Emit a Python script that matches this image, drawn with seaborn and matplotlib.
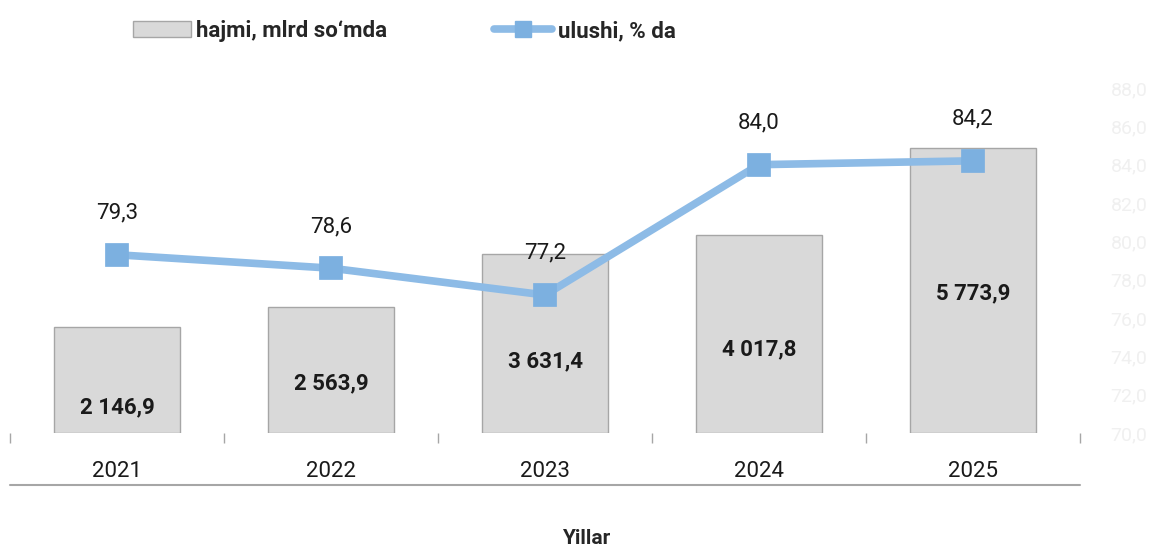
import pandas as pd
import matplotlib.pyplot as plt
import seaborn as sns
from matplotlib.patches import Patch
from matplotlib.lines import Line2D

# data
years = ["2021", "2022", "2023", "2024", "2025"]
volume = [2146.9, 2563.9, 3631.4, 4017.8, 5773.9]   # hajmi, mlrd so'mda
share = [79.3, 78.6, 77.2, 84.0, 84.2]             # ulushi, % da

df = pd.DataFrame({"year": years, "volume": volume, "share": share})

def fmt(v):
    s = f"{v:,.1f}".replace(",", " ").replace(".", ",")
    return s

sns.set_style("white")
plt.rcParams["font.family"] = ["Roboto", "DejaVu Sans"]

bar_color = "#d9d9d9"
line_color = "#8dbbe6"
marker_color = "#7cb0e0"

fig = plt.figure(figsize=(11.54, 5.5), dpi=100)
ax = fig.add_axes([10 / 1154, 117 / 550, 1070 / 1154, 345 / 550])

sns.barplot(data=df, x="year", y="volume", ax=ax, color=bar_color,
            width=0.59, edgecolor="#a6a6a6", linewidth=1.0, saturation=1)
ax.set_ylim(0, 7000)
ax.set_xlim(-0.5, 4.5)

# bar labels (placed inside the bars, like the original)
label_frac = [0.24, 0.39, 0.40, 0.42, 0.49]
for i, v in enumerate(volume):
    ax.text(i, v * label_frac[i], fmt(v), ha="center", va="center",
            fontsize=16, fontweight="bold", color="#1a1a1a")

ax2 = ax.twinx()
sns.pointplot(data=df, x="year", y="share", ax=ax2, color=line_color,
              markers="s", linewidth=5.5, markersize=13,
              markerfacecolor=marker_color, markeredgecolor=marker_color)
ax2.set_ylim(70, 88)
ax2.set_xlim(-0.5, 4.5)
ax2.set_yticks(range(70, 89, 2))
ax2.set_yticklabels([f"{t},0" for t in range(70, 89, 2)], color="#f0f0f0", fontsize=14)
ax2.tick_params(axis="y", length=0, pad=22)
for i, v in enumerate(share):
    ax2.annotate(f"{v:.1f}".replace(".", ","), (i, v), xytext=(0, 30),
                 textcoords="offset points", ha="center", va="center",
                 fontsize=16, color="#1a1a1a")

# axes styling
for a in (ax, ax2):
    for s in a.spines.values():
        s.set_visible(False)
    a.set_xlabel("")
    a.set_ylabel("")
ax.set_yticks([])
ax.set_xticks(range(5))
ax.set_xticklabels(years, fontsize=16, color="#1a1a1a")
ax.set_xticks([i - 0.5 for i in range(6)], minor=True)
ax.tick_params(axis="x", which="major", bottom=False, length=0, pad=20)
ax.tick_params(axis="x", which="minor", bottom=True, length=7, width=1,
               color="#a6a6a6", direction="out")
ax2.tick_params(axis="x", which="both", length=0, labelbottom=False)
ax.plot([0, 1], [-0.151, -0.151], transform=ax.transAxes, clip_on=False,
        color="#a6a6a6", linewidth=1.5)

fig.text(0.508, 0.003, "Yillar", ha="center", va="bottom", fontsize=15, fontweight="bold")

handles = [
    Patch(facecolor=bar_color, edgecolor="#a6a6a6", linewidth=1.0),
    Line2D([], [], color=line_color, linewidth=5.5, marker="s", markersize=11,
           markerfacecolor=marker_color, markeredgecolor=marker_color),
]
fig.legend(handles, ["hajmi, mlrd so\u2018mda", "ulushi, % da"], loc="upper left",
           bbox_to_anchor=(0.098, 1.0), ncol=2, frameon=False, columnspacing=4.8,
           handlelength=2.6, handletextpad=0.25, prop={"weight": "bold", "size": 16})

fig.savefig("out.png", dpi=100)
